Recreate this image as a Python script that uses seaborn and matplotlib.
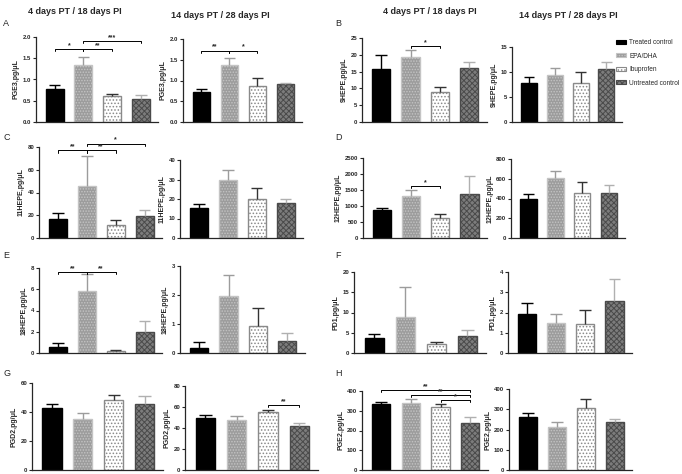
import numpy as np
import pandas as pd
import seaborn as sns
import matplotlib.pyplot as plt
from matplotlib.patches import Patch

# -----------------------------
# data (means and upper SEM)
# -----------------------------
groups = ["Treated control", "EPA/DHA", "Ibuprofen", "Untreated control"]

pge3_4d = [0.78, 1.35, 0.60, 0.53]
pge3_4d_err = [0.10, 0.18, 0.05, 0.10]
pge3_14d = [0.72, 1.38, 0.87, 0.92]
pge3_14d_err = [0.07, 0.17, 0.19, 0.03]

hepe9_4d = [15.7, 19.2, 9.0, 16.0]
hepe9_4d_err = [4.3, 2.3, 1.3, 2.0]
hepe9_14d = [7.9, 9.4, 7.9, 10.6]
hepe9_14d_err = [1.2, 1.5, 2.2, 1.5]

hepe11_4d = [16.5, 45.5, 11.5, 19.0]
hepe11_4d_err = [5.5, 27.0, 4.0, 6.0]
hepe11_14d = [15.5, 29.7, 19.8, 17.8]
hepe11_14d_err = [2.0, 5.3, 5.7, 2.2]

hepe12_4d = [870, 1300, 640, 1360]
hepe12_4d_err = [60, 200, 110, 590]
hepe12_14d = [395, 610, 460, 455]
hepe12_14d_err = [55, 70, 110, 80]

hepe18_4d = [0.55, 5.8, 0.15, 2.0]
hepe18_4d_err = [0.40, 1.6, 0.15, 1.0]
hepe18_14d = [0.18, 1.95, 0.93, 0.42]
hepe18_14d_err = [0.20, 0.75, 0.62, 0.28]

pd1_4d = [3.7, 9.0, 2.3, 4.1]
pd1_4d_err = [1.0, 7.2, 0.4, 1.7]
pd1_14d = [1.95, 1.47, 1.43, 2.58]
pd1_14d_err = [0.52, 0.45, 0.69, 1.07]

pgd2_4d = [42.5, 35.0, 48.0, 45.5]
pgd2_4d_err = [3.0, 4.5, 3.5, 5.5]
pgd2_14d = [49.5, 48.0, 55.0, 42.0]
pgd2_14d_err = [3.0, 3.0, 2.5, 2.5]

pge2_4d = [332, 340, 320, 240]
pge2_4d_err = [11, 17, 12, 30]
pge2_14d = [260, 212, 305, 237]
pge2_14d_err = [20, 23, 48, 15]

# significance brackets: (bar a, bar b, height, label)
pge3_4d_sig = [(0, 1, 1.72, "*"), (1, 2, 1.72, "**"), (1, 3, 1.90, "***")]
pge3_14d_sig = [(0, 1, 1.72, "**"), (1, 2, 1.72, "*")]
hepe9_4d_sig = [(1, 2, 22.5, "*")]
hepe11_4d_sig = [(0, 1, 77, "**"), (1, 2, 77, "**"), (1, 3, 83, "*")]
hepe12_4d_sig = [(1, 2, 1620, "*")]
hepe18_4d_sig = [(0, 1, 7.6, "**"), (1, 2, 7.6, "**")]
pgd2_14d_sig = [(2, 3, 62, "**")]
pge2_4d_sig = [(0, 3, 405, "**"), (1, 3, 378, "**"), (2, 3, 352, "*")]

# -----------------------------
# style
# -----------------------------
sns.set_style("ticks")
plt.rcParams["font.family"] = ["Liberation Sans", "DejaVu Sans"]
plt.rcParams["hatch.linewidth"] = 0.7

face = {"Treated control": "#000000", "EPA/DHA": "#9c9c9c",
        "Ibuprofen": "#ffffff", "Untreated control": "#7c7c7c"}
hatch_edge = ["#000000", "#c4c4c4", "#8a8a8a", "#4a4a4a"]
hatches = ["", "......", ".....", "xxxxxx"]
err_col = ["#000000", "#9c9c9c", "#333333", "#b0b0b0"]

W, H = 682, 474
fig = plt.figure(figsize=(W / 100, H / 100), dpi=100)


def panel(px, means, errs, ymax, step, ylabel, sig=()):
    l, r, t, b = px
    ax = fig.add_axes([l / W, 1 - b / H, (r - l) / W, (b - t) / H])
    df = pd.DataFrame({"group": groups, "value": means})
    sns.barplot(data=df, x="group", y="value", hue="group", palette=face,
                order=groups, hue_order=groups, width=0.62, saturation=1,
                errorbar=None, legend=False, ax=ax)
    for i, p in enumerate(ax.patches):
        p.set_hatch(hatches[i])
        p.set_edgecolor(hatch_edge[i])
        p.set_linewidth(1.0)
    # upper error bars only
    for i, (m, e) in enumerate(zip(means, errs)):
        ax.vlines(i, m, m + e, color=err_col[i], lw=1.0, zorder=1)
        ax.hlines(m + e, i - 0.2, i + 0.2, color=err_col[i], lw=1.0, zorder=1)
    for a, bb, y, lab in sig:
        d = ymax * 0.025
        ax.plot([a, a, bb, bb], [y - d, y, y, y - d], color="black",
                lw=0.7, clip_on=False)
        ax.text((a + bb) / 2, y, lab, ha="center", va="bottom",
                fontsize=5, fontweight="bold")
    ax.set_xlim(-0.65, 3.6)
    ax.set_ylim(0, ymax)
    ticks = np.arange(0, ymax + step / 2, step)
    ax.set_yticks(ticks)
    if step < 1:
        ax.set_yticklabels([f"{v:.1f}" for v in ticks])
    else:
        ax.set_yticklabels([f"{v:g}" for v in ticks])
    ax.set_xticks([])
    ax.set_xlabel("")
    ax.set_ylabel(ylabel, fontsize=5, fontweight="bold", labelpad=2)
    ax.tick_params(axis="y", labelsize=4.3, length=2.5, width=0.8, pad=1)
    for lbl in ax.get_yticklabels():
        lbl.set_fontweight("bold")
    for s in ["left", "bottom"]:
        ax.spines[s].set_linewidth(0.9)
    sns.despine(ax=ax)
    return ax


panel((36, 158, 37, 122), pge3_4d, pge3_4d_err, 2.0, 0.5, "PGE3,pg/\u03bcL", pge3_4d_sig)
panel((183, 302, 39, 122), pge3_14d, pge3_14d_err, 2.0, 0.5, "PGE3,pg/\u03bcL", pge3_14d_sig)
panel((362, 487, 38, 122), hepe9_4d, hepe9_4d_err, 25, 5, "9HEPE,pg/\u03bcL", hepe9_4d_sig)
panel((512, 622, 47, 122), hepe9_14d, hepe9_14d_err, 15, 5, "9HEPE,pg/\u03bcL")

panel((39, 162, 147, 238), hepe11_4d, hepe11_4d_err, 80, 20, "11HEPE,pg/\u03bcL", hepe11_4d_sig)
panel((180, 303, 160, 238), hepe11_14d, hepe11_14d_err, 40, 10, "11HEPE,pg/\u03bcL")
panel((363, 487, 158, 238), hepe12_4d, hepe12_4d_err, 2500, 500, "12HEPE,pg/\u03bcL", hepe12_4d_sig)
panel((511, 625, 159, 238), hepe12_14d, hepe12_14d_err, 800, 200, "12HEPE,pg/\u03bcL")

panel((39, 162, 268, 353), hepe18_4d, hepe18_4d_err, 8, 2, "18HEPE,pg/\u03bcL", hepe18_4d_sig)
panel((180, 305, 266, 353), hepe18_14d, hepe18_14d_err, 3, 1, "18HEPE,pg/\u03bcL")
panel((354, 486, 272, 353), pd1_4d, pd1_4d_err, 20, 5, "PD1,pg/\u03bcL")
panel((508, 632, 272, 353), pd1_14d, pd1_14d_err, 4, 1, "PD1,pg/\u03bcL")

panel((32, 163, 383, 470), pgd2_4d, pgd2_4d_err, 60, 20, "PGD2,pg/\u03bcL")
panel((185, 318, 386, 470), pgd2_14d, pgd2_14d_err, 80, 20, "PGD2,pg/\u03bcL", pgd2_14d_sig)
panel((362, 488, 391, 470), pge2_4d, pge2_4d_err, 400, 100, "PGE2,pg/\u03bcL", pge2_4d_sig)
panel((509, 632, 389, 470), pge2_14d, pge2_14d_err, 400, 100, "PGE2,pg/\u03bcL")

# column titles
for x, y, txt in [(75, 12, "4 days PT / 18 days PI"), (220, 15, "14 days PT / 28 days PI"),
                  (430, 12, "4 days PT / 18 days PI"), (568, 15, "14 days PT / 28 days PI")]:
    fig.text(x / W, 1 - y / H, txt, ha="center", va="center", fontsize=6.5, fontweight="bold")

# panel letters
for x, y, lab in [(3, 23, "A"), (335, 23, "B"), (3, 137, "C"), (335, 137, "D"),
                  (3, 255, "E"), (335, 255, "F"), (3, 373, "G"), (335, 373, "H")]:
    fig.text(x / W, 1 - y / H, lab, ha="left", va="center", fontsize=6.5)

handles = [Patch(facecolor=face[g], edgecolor=hatch_edge[i], hatch=hatches[i], lw=0.8)
           for i, g in enumerate(groups)]
fig.legend(handles, groups, loc="upper left", bbox_to_anchor=(616 / W, 1 - 39 / H),
           frameon=False, fontsize=4.7, handlelength=1.5, handleheight=0.6,
           labelspacing=1.0, handletextpad=0.5, borderaxespad=0, borderpad=0)

fig.savefig("out.png", dpi=100)
